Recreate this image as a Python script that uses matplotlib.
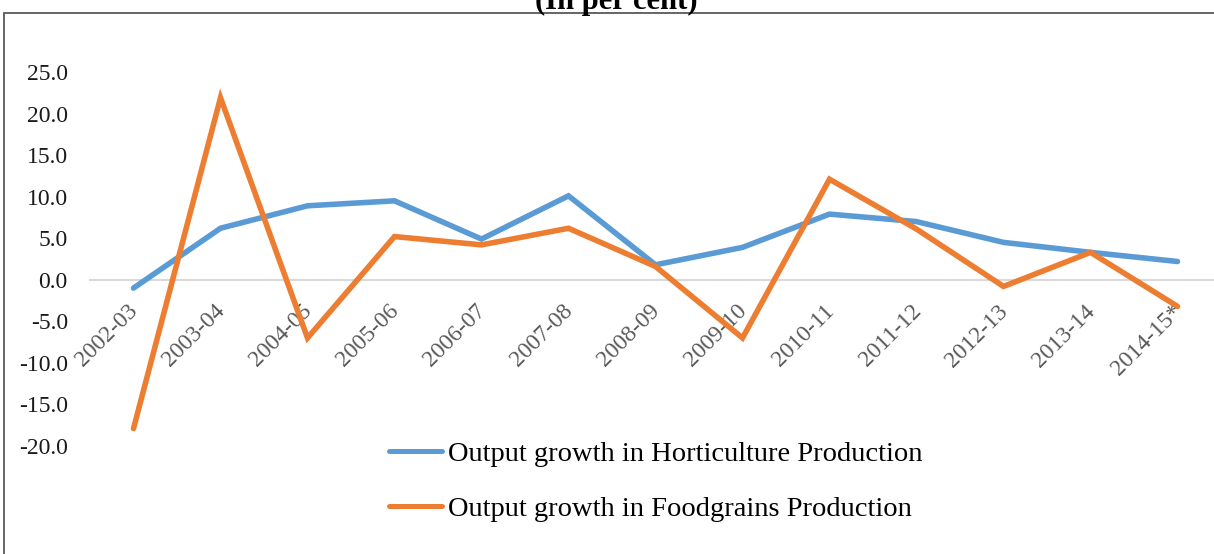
"""Output growth in horticulture vs foodgrains production (in per cent)."""
import matplotlib
matplotlib.use("Agg")
import matplotlib.pyplot as plt
from matplotlib.patches import Rectangle
from matplotlib.transforms import ScaledTranslation

plt.rcParams["font.family"] = ["Liberation Serif", "DejaVu Serif"]

years = ["2002-03", "2003-04", "2004-05", "2005-06", "2006-07", "2007-08",
         "2008-09", "2009-10", "2010-11", "2011-12", "2012-13", "2013-14",
         "2014-15*"]
horticulture = [-1.0, 6.2, 8.9, 9.5, 4.9, 10.1, 1.8, 3.9, 7.9, 7.0, 4.5, 3.3, 2.2]
foodgrains = [-17.9, 21.9, -7.0, 5.2, 4.2, 6.2, 1.6, -7.0, 12.1, 6.1, -0.8, 3.3, -3.2]
y_ticks = [-20, -15, -10, -5, 0, 5, 10, 15, 20, 25]

BLUE = "#5b9bd5"
ORANGE = "#ed7d31"

W, H = 1214, 554
fig = plt.figure(figsize=(W / 100, H / 100), dpi=100)

# outer chart frame (right and bottom edges fall outside the picture)
fig.patches.append(Rectangle((4 / W, -0.1), 1.2, 1 - 13 / H + 0.1,
                             transform=fig.transFigure, fill=False,
                             edgecolor="#595959", linewidth=1.3))
# title is cut off by the top edge in the source image
fig.text(616 / W, 1 - 9 / H, "(In per cent)", ha="center", va="baseline",
         fontsize=22, fontweight="bold")

ax = fig.add_axes([90 / W, 1 - 446 / H, (W - 90) / W, (446 - 72) / H])
x = list(range(len(years)))
ax.plot(x, horticulture, color=BLUE, linewidth=4.0, solid_capstyle="round",
        solid_joinstyle="miter", label="Output growth in Horticulture Production",
        clip_on=False, zorder=3)
ax.plot(x, foodgrains, color=ORANGE, linewidth=4.0, solid_capstyle="round",
        solid_joinstyle="miter", label="Output growth in Foodgrains Production",
        clip_on=False, zorder=3)

for side in ("top", "right", "left"):
    ax.spines[side].set_visible(False)
ax.spines["bottom"].set_position(("data", 0))
ax.spines["bottom"].set_color("#d9d9d9")
ax.spines["bottom"].set_linewidth(1.5)
ax.patch.set_alpha(0)

ax.set_xlim(-0.5, -0.5 + (W - 90) / 87)
ax.set_ylim(-20, 25)
ax.set_yticks(y_ticks)
ax.set_yticklabels([f"{v:.1f}" for v in y_ticks], fontsize=17, color="#1a1a1a")
ax.set_xticks(x)
ax.set_xticklabels(years, rotation=45, ha="right", va="top",
                   rotation_mode="anchor", fontsize=17, color="#595959")
ax.tick_params(axis="y", length=0, pad=16)
ax.tick_params(axis="x", length=0, pad=15)
shift = ScaledTranslation(-6 / 100, 0, fig.dpi_scale_trans)
for lbl in ax.get_xticklabels():
    lbl.set_transform(lbl.get_transform() + shift)

leg = fig.legend(loc="upper left", bbox_to_anchor=(378 / W, 1 - 430 / H),
                 frameon=False, fontsize=20.5, handlelength=1.85,
                 handletextpad=0.2, labelspacing=1.0, borderaxespad=0)
for line in leg.get_lines():
    line.set_linewidth(3.6)

fig.savefig("out.png", dpi=100)
